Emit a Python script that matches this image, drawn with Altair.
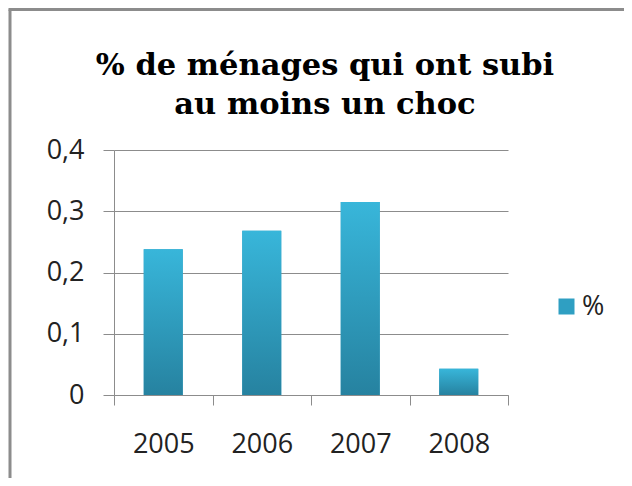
import altair as alt
import pandas as pd

years = ["2005", "2006", "2007", "2008"]
values = [0.238, 0.268, 0.315, 0.043]
series = ["%", "%", "%", "%"]
y_ticks = [0, 0.1, 0.2, 0.3, 0.4]
title_lines = ["% de ménages qui ont subi", "au moins un choc"]

df = pd.DataFrame({"year": years, "value": values, "series": series})
frame_df = pd.DataFrame({"k": [0]})

GRAY = "#8c8c8c"
gradient = alt.Gradient(
    gradient="linear",
    stops=[
        alt.GradientStop(color="#38b6da", offset=0),
        alt.GradientStop(color="#2682a0", offset=1),
    ],
    x1=0, x2=0, y1=0, y2=1,
)
BAR_W = alt.RelativeBandSize(0.396)

xenc = alt.X(
    "year:N",
    sort=years,
    scale=alt.Scale(paddingInner=0, paddingOuter=0),
    axis=alt.Axis(
        title=None, labelAngle=0, labelFont="Open Sans", labelFontSize=27,
        labelColor="#222222", domainColor=GRAY, tickColor=GRAY, tickSize=10,
        tickBand="extent", labelPadding=26, grid=False,
    ),
)
yenc = alt.Y(
    "value:Q",
    scale=alt.Scale(domain=[0, 0.4], nice=False),
    axis=alt.Axis(
        title=None, values=y_ticks,
        labelExpr="datum.value == 0 ? '0' : replace(format(datum.value, '.1f'), '.', ',')",
        labelFont="Open Sans", labelFontSize=27, labelColor="#222222",
        domainColor=GRAY, tickColor=GRAY, tickSize=11, labelPadding=19,
        gridColor=GRAY, gridOpacity=1,
    ),
)

base = alt.Chart(df)
bars_solid = base.mark_bar(width=BAR_W).encode(
    x=xenc,
    y=yenc,
    color=alt.Color(
        "series:N",
        scale=alt.Scale(range=["#2f9fc2"]),
        legend=alt.Legend(
            title=None, orient="none", legendX=439, legendY=143,
            symbolType="square", symbolSize=256, symbolStrokeWidth=0,
            labelFont="Open Sans", labelFontSize=27, labelColor="#222222",
            labelOffset=2,
        ),
    ),
)
bars_grad = base.mark_bar(color=gradient, width=BAR_W).encode(x="year:N", y="value:Q")

frame_left = alt.Chart(frame_df).mark_rule(color=GRAY, strokeWidth=3).encode(
    x=alt.value(-104), y=alt.value(-140.5), y2=alt.value(330)
)
frame_top = alt.Chart(frame_df).mark_rule(color=GRAY, strokeWidth=3).encode(
    x=alt.value(-105.5), x2=alt.value(520), y=alt.value(-140.5)
)

chart = alt.layer(bars_solid, bars_grad, frame_left, frame_top).properties(
    width=394,
    height=245,
    padding={"left": 106, "top": 142, "right": 116, "bottom": 83},
    autosize=alt.AutoSizeParams(type="none"),
    title=alt.TitleParams(
        title_lines, font="DejaVu Serif", fontSize=30.5, fontWeight="bold",
        color="#000000", anchor="middle", dx=14, offset=-142,
        baseline="bottom", lineHeight=39,
    ),
).configure_view(stroke=None)

chart.save("out.html", embed_options={"renderer": "svg", "actions": False})
